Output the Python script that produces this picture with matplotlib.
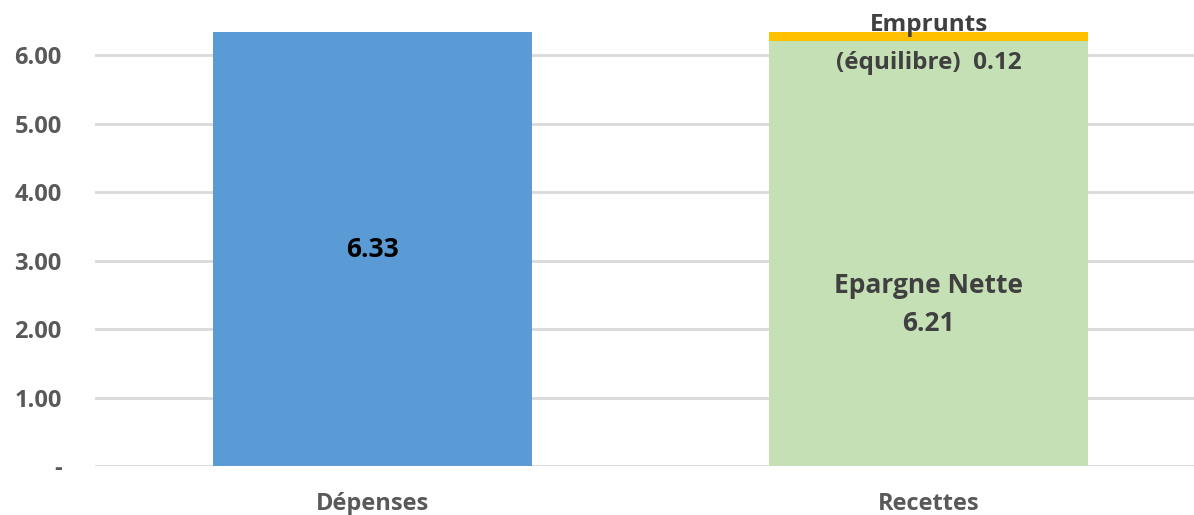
import matplotlib.pyplot as plt

categories = ['Dépenses', 'Recettes']
depenses = [6.33, 0]
epargne = [0, 6.21]
emprunts = [0, 0.12]
yticks = [0, 1, 2, 3, 4, 5, 6]
ytick_labels = ['-', '1.00', '2.00', '3.00', '4.00', '5.00', '6.00']

plt.rcParams['font.family'] = ['Open Sans', 'DejaVu Sans']
plt.rcParams['font.weight'] = 'bold'

fig = plt.figure(figsize=(11.94, 5.15), dpi=100)
ax = fig.add_axes([95 / 1194, 49 / 515, 1 - 95 / 1194, 466 / 515])

x = [0, 1]
w = 0.574
ax.bar(x[0], depenses[0], width=w, color='#5b9bd5', zorder=3)
ax.bar(x[1], epargne[1], width=w, color='#c5e0b4', zorder=3)
ax.bar(x[1], emprunts[1], bottom=epargne[1], width=w, color='#ffc000', zorder=3)

ax.set_xlim(-0.5, 1.477)
ax.set_ylim(0, 6.803)
ax.set_yticks(yticks)
ax.set_yticklabels(ytick_labels)
ax.set_xticks(x)
ax.set_xticklabels(categories)
ax.yaxis.grid(True, color='#d9d9d9', linewidth=2, zorder=0)
ax.tick_params(axis='both', length=0, labelsize=17, labelcolor='#595959')
ax.tick_params(axis='y', pad=24)
ax.tick_params(axis='x', pad=19)
for s in ax.spines.values():
    s.set_visible(False)

ax.text(x[0], depenses[0] / 2, f'{depenses[0]:.2f}', ha='center', va='center',
        fontsize=19, fontweight='bold', color='black', zorder=4)
ax.text(x[1], 2.36, f'Epargne Nette\n{epargne[1]:.2f}', ha='center', va='center',
        fontsize=19, fontweight='bold', color='#404040', linespacing=1.5, zorder=4)
ax.text(x[1], 6.16, f'Emprunts\n(équilibre)  {emprunts[1]:.2f}', ha='center', va='center',
        fontsize=17.5, fontweight='bold', color='#404040', linespacing=1.75, zorder=4)

fig.savefig('out.png', dpi=100)
